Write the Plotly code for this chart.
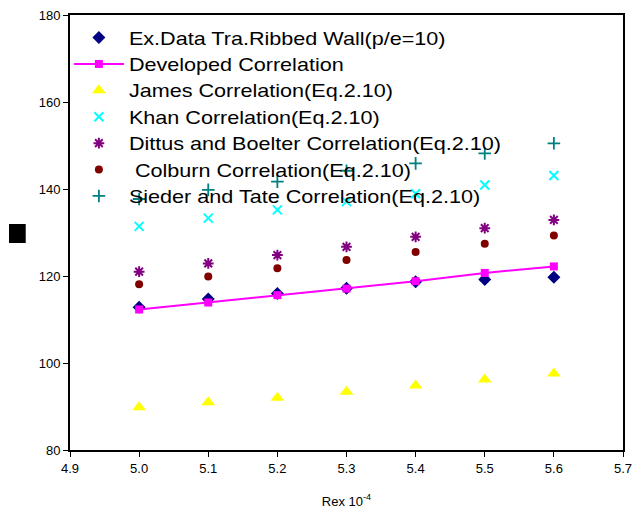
import plotly.graph_objects as go

# Reynolds number (x 10^-4)
rex = [5.0, 5.1, 5.2, 5.3, 5.4, 5.5, 5.6]

# Nusselt number values for each data set
ex_data = [112.8, 114.7, 116.0, 117.2, 118.7, 119.2, 119.7]
developed = [112.3, 113.9, 115.6, 117.1, 118.8, 120.7, 122.2]
james = [89.8, 91.0, 92.0, 93.4, 94.8, 96.2, 97.6]
khan = [131.4, 133.3, 135.2, 137.1, 138.9, 140.9, 143.1]
dittus = [121.0, 122.9, 124.8, 126.7, 129.0, 131.0, 132.9]
colburn = [118.1, 119.9, 121.8, 123.7, 125.5, 127.4, 129.3]
sieder = [137.7, 139.8, 141.7, 144.2, 145.9, 148.2, 150.5]

x_ticks = [4.9, 5.0, 5.1, 5.2, 5.3, 5.4, 5.5, 5.6, 5.7]
y_ticks = [80, 100, 120, 140, 160, 180]

fig = go.Figure()

def pts(name, y, symbol, color, size, lw=0):
    fig.add_trace(go.Scatter(
        x=rex, y=y, name=name, mode="markers",
        marker=dict(symbol=symbol, color=color, size=size,
                    line=dict(color=color, width=lw)),
    ))

pts("Ex.Data Tra.Ribbed Wall(p/e=10)", ex_data, "diamond", "#000080", 10)
fig.add_trace(go.Scatter(
    x=rex, y=developed, name="Developed Correlation", mode="lines+markers",
    line=dict(color="#FF00FF", width=2),
    marker=dict(symbol="square", color="#FF00FF", size=8),
))
pts("James Correlation(Eq.2.10)", james, "triangle-up", "#FFFF00", 12)
pts("Khan Correlation(Eq.2.10)", khan, "x-thin-open", "#00FFFF", 9, 2)
pts("Dittus and Boelter Correlation(Eq.2.10)", dittus, "asterisk-open", "#800080", 9, 2)
pts(" Colburn Correlation(Eq.2.10)", colburn, "circle", "#800000", 8)
pts("Sieder and Tate Correlation(Eq.2.10)", sieder, "cross-thin-open", "#008080", 9, 1.8)

L, R, T, B = 70, 8, 15, 65
W, H = 640, 515
pw, ph = W - L - R, H - T - B

fig.update_layout(
    width=W, height=H,
    margin=dict(l=L, r=R, t=T, b=B),
    paper_bgcolor="white", plot_bgcolor="white",
    font=dict(family="Liberation Sans, Arial, sans-serif", color="black", size=13),
    showlegend=True,
    legend=dict(
        x=-0.002, y=0.99, xanchor="left", yanchor="top",
        bgcolor="rgba(0,0,0,0)",
        font=dict(size=18, color="black"),
        itemwidth=50,
    ),
    xaxis=dict(
        range=[4.9, 5.7], tickvals=x_ticks,
        ticktext=[f"{v:.1f}" for v in x_ticks],
        showgrid=False, zeroline=False,
        showline=True, linecolor="black", linewidth=2, mirror=True,
        ticks="outside", ticklen=5, tickcolor="black",
        tickfont=dict(size=13),
        title=dict(text="Rex 10<sup>-4</sup>", font=dict(size=13), standoff=22),
    ),
    yaxis=dict(
        range=[80, 180], tickvals=y_ticks,
        showgrid=False, zeroline=False,
        showline=True, linecolor="black", linewidth=2, mirror=True,
        ticks="outside", ticklen=5, tickcolor="black",
        tickfont=dict(size=13),
    ),
)

# solid block standing in for the y-axis label
fig.add_shape(
    type="rect", xref="paper", yref="paper",
    x0=(8 - L) / pw, x1=(25 - L) / pw,
    y0=1 - (243 - T) / ph, y1=1 - (224 - T) / ph,
    fillcolor="black", line=dict(width=0),
)

# widen the legend lettering horizontally around each label's start point,
# and let the widened labels run past the legend box
stretch_legend = """
document.querySelectorAll('.legend [clip-path]').forEach(function (g) {
  g.removeAttribute('clip-path');
});
document.querySelectorAll('.legendtext').forEach(function (t) {
  var x = parseFloat(t.getAttribute('x')) || 0;
  t.setAttribute('transform',
    'translate(' + x + ',0) scale(1.2,1) translate(' + (-x) + ',0)');
});
"""

fig.write_html("out.html", post_script=stretch_legend)
